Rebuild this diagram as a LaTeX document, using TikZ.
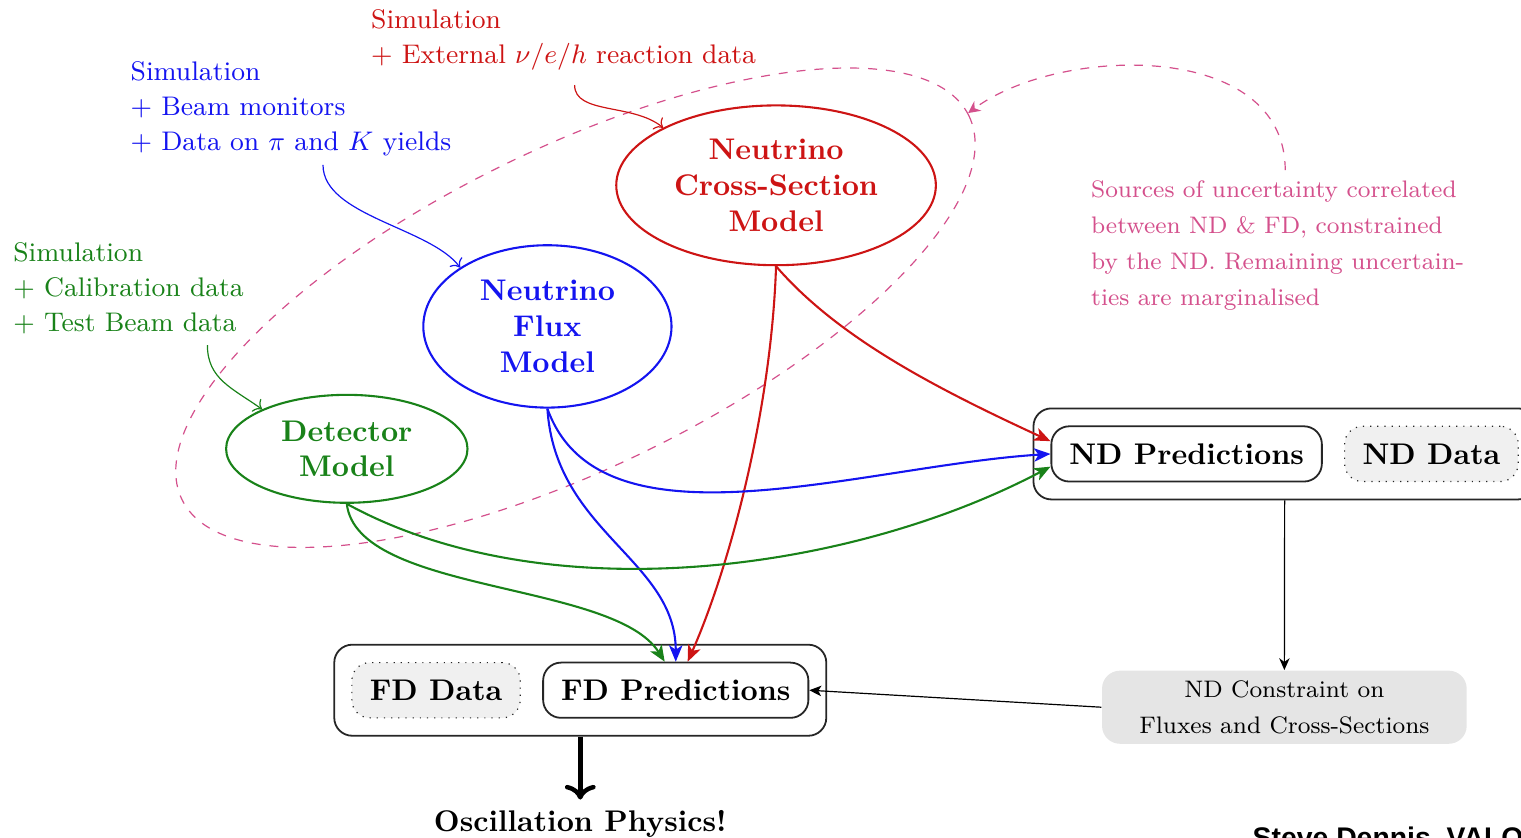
\documentclass[tikz,border=0pt]{standalone}
\usepackage{fontspec}
\setsansfont{Liberation Sans}
\usetikzlibrary{arrows,arrows.meta,positioning,fit,shapes.geometric}

\definecolor{xsecred}{RGB}{205,20,20}
\definecolor{fluxblue}{RGB}{20,20,240}
\definecolor{detgreen}{RGB}{25,130,25}
\definecolor{corrpink}{RGB}{212,80,140}

\begin{document}
\begin{tikzpicture}[
    model/.style={ellipse, draw, line width=0.7pt, inner sep=0pt, align=center, font=\bfseries},
    pred/.style={draw=black!85, semithick, rounded corners=6pt, fill=white, inner xsep=6pt, minimum height=0.65cm, font=\bfseries},
    obs/.style={draw=black!85, dotted, rounded corners=6pt, fill=gray!12, inner xsep=6pt, minimum height=0.65cm, font=\bfseries},
    group/.style={draw=black!85, semithick, rounded corners=6pt, inner sep=0.2cm},
    note/.style={align=left, inner sep=0pt, anchor=north west, font=\fontsize{9}{11.7}\selectfont},
    feed/.style={line width=0.7pt, -{Stealth[length=5.5pt,width=4.5pt,inset=1.5pt]}},
    hint/.style={->, line width=0.4pt},
]
\useasboundingbox (0,0) rectangle (17.894,-9.847);

% models
\node[model, xsecred, minimum width=3.76cm, minimum height=1.88cm] (xsec) at (9.13,-2.18) {Neutrino\\Cross-Section\\Model};
\node[model, fluxblue, minimum width=2.92cm, minimum height=1.91cm] (flux) at (6.44,-3.84) {Neutrino\\Flux\\Model};
\node[model, detgreen, minimum width=2.84cm, minimum height=1.27cm] (det) at (4.08,-5.28) {Detector\\Model};

% near and far detector
\node[pred] (NDpred) at (13.96,-5.34) {ND Predictions};
\node[obs, on grid, right=2.88cm of NDpred] (NDdata) {ND Data};
\node[group, fit=(NDpred)(NDdata)] (NDbox) {};

\node[obs] (FDdata) at (5.13,-8.12) {FD Data};
\node[pred, on grid, right=2.82cm of FDdata] (FDpred) {FD Predictions};
\node[group, fit=(FDdata)(FDpred)] (FDbox) {};

\node[fill=gray!20, rounded corners=6pt, minimum width=4.29cm, minimum height=0.86cm, align=center, font=\fontsize{8}{12}\selectfont] (constraint) at (15.11,-8.32) {ND Constraint on\\Fluxes and Cross-Sections};
\node[font=\bfseries, below=0.74cm of FDbox] (physics) {Oscillation Physics!};

% inputs to the models
\node[note, xsecred] (xsecnote) at (4.36,-0.10) {Simulation\\$+$ External $\nu/e/h$ reaction data};
\node[note, fluxblue] (fluxnote) at (1.53,-0.72) {Simulation\\$+$ Beam monitors\\$+$ Data on $\pi$ and $K$ yields};
\node[note, detgreen] (detnote) at (0.15,-2.85) {Simulation\\$+$ Calibration data\\$+$ Test Beam data};
\node[note, corrpink, font=\fontsize{8}{12}\selectfont] (corrnote) at (12.83,-2.12) {Sources of uncertainty correlated\\between ND \& FD, constrained\\by the ND. Remaining uncertain-\\ties are marginalised};
\node[anchor=north west, inner sep=0pt, font=\sffamily\bfseries\fontsize{9.5}{11}\selectfont] (footer) at (14.73,-9.72) {Steve Dennis, VALOR};

\coordinate (xsecsrc) at (6.76,-1.0);
\coordinate (fluxsrc) at (3.80,-1.94);
\coordinate (detsrc) at (2.44,-4.06);
\coordinate (corrsrc) at (15.12,-2.0);
\coordinate (corrtip) at (11.39,-1.33);
\coordinate (corrc) at (6.77,-3.62);

% correlated region
\draw[corrpink, dashed, rotate around={26:(corrc)}] (corrc) ellipse [x radius=5.15cm, y radius=1.88cm];
\draw[corrpink, dashed, -{Stealth[length=4pt,width=4pt]}] (corrsrc) .. controls +(0,1.53) and +(1.08,0.8) .. (corrtip);

\draw[hint, xsecred] (xsecsrc) .. controls +(0,-0.35) and +(-0.35,0.29) .. (xsec.153);
\draw[hint, fluxblue] (fluxsrc) .. controls +(0,-0.6) and +(-0.35,0.47) .. (flux.146);
\draw[hint, detgreen] (detsrc) .. controls +(0,-0.4) and +(-0.35,0.25) .. (det.155);

% predictions
\draw[feed, xsecred] (xsec.south) .. controls +(0.71,-0.82) and +(-1.41,0.65) .. ([yshift=0.15cm]NDpred.west);
\draw[feed, xsecred] (xsec.south) .. controls +(-0.06,-1.76) and +(0.47,1.06) .. ([xshift=0.14cm]FDpred.north);
\draw[feed, fluxblue] (flux.south) .. controls +(0.62,-1.74) and +(-2.22,-0.14) .. (NDpred.west);
\draw[feed, fluxblue] (flux.south) .. controls +(0.09,-1.45) and +(0,1.2) .. (FDpred.north);
\draw[feed, detgreen] (det.south) .. controls +(2.35,-1.29) and +(-2.35,-1.24) .. ([yshift=-0.15cm]NDpred.west);
\draw[feed, detgreen] (det.south) .. controls +(0.12,-1.06) and +(-0.6,0.95) .. ([xshift=-0.13cm]FDpred.north);

\draw[-{Stealth[length=4pt,width=3.5pt]}] (NDbox.south) -- (constraint.north);
\draw[-{Stealth[length=4pt,width=3.5pt,inset=1pt]}] (constraint.west) -- (FDpred.east);
\draw[->, line width=1.5pt] (FDbox.south) -- (physics.north);
\end{tikzpicture}
\end{document}
